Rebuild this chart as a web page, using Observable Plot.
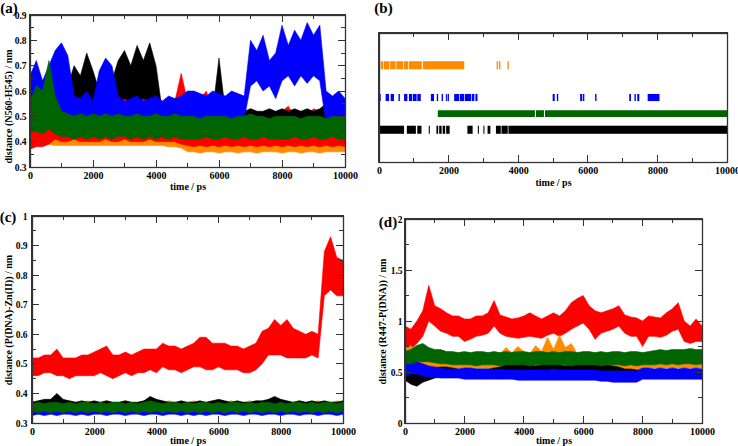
<!DOCTYPE html>
<html><head><meta charset="utf-8">
<script src="https://cdn.jsdelivr.net/npm/d3@7"></script>
<script src="https://cdn.jsdelivr.net/npm/@observablehq/plot@0.6"></script>
<style>
body{margin:0;background:#fff;}
#wrap{position:relative;width:738px;height:446px;overflow:hidden;background:#fff;}
#wrap svg{position:absolute;overflow:visible;}
.fr{position:absolute;border:1.3px solid #333;box-sizing:border-box;z-index:5;pointer-events:none;}
.tk{position:absolute;background:#333;z-index:5;pointer-events:none;}
</style></head><body><div id="wrap"></div>
<script>
// ---------- shared sampling grid (ps) ----------
const T = [0,200,400,600,800,1000,1200,1400,1600,1800,2000,2200,2400,2600,2800,3000,3200,3400,3600,3800,4000,4200,4400,4600,4800,5000,5200,5400,5600,5800,6000,6200,6400,6600,6800,7000,7200,7400,7600,7800,8000,8200,8400,8600,8800,9000,9200,9400,9600,9800,10000];

// ---------- ticks ----------
const xMajor = [0,2000,4000,6000,8000,10000];
const xMinor = [1000,3000,5000,7000,9000];
const aYMajor = [0.3,0.4,0.5,0.6,0.7,0.8,0.9];
const aYMinor = [0.35,0.45,0.55,0.65,0.75,0.85];
const cYMajor = [0.3,0.4,0.5,0.6,0.7,0.8,0.9,1];
const cYMinor = [0.35,0.45,0.55,0.65,0.75,0.85,0.95];
const dYMajor = [0,0.5,1,1.5,2];
const dYMinor = [0.25,0.75,1.25,1.75];

// ---------- panel (a): distance (N560-H545) lo/hi envelopes ----------
const aOrangeLo = [0.39,0.39,0.39,0.39,0.385,0.385,0.385,0.385,0.385,0.385,0.385,0.385,0.385,0.385,0.385,0.385,0.385,0.385,0.385,0.385,0.385,0.385,0.38,0.38,0.375,0.36,0.36,0.355,0.36,0.36,0.355,0.36,0.36,0.355,0.36,0.36,0.355,0.36,0.36,0.36,0.355,0.36,0.36,0.355,0.36,0.36,0.355,0.36,0.36,0.36,0.36];
const aOrangeHi = [0.43,0.43,0.43,0.44,0.45,0.45,0.44,0.45,0.44,0.45,0.44,0.45,0.44,0.45,0.44,0.45,0.44,0.45,0.44,0.45,0.44,0.45,0.44,0.45,0.44,0.44,0.44,0.43,0.44,0.43,0.44,0.44,0.43,0.44,0.43,0.44,0.44,0.43,0.44,0.43,0.44,0.44,0.43,0.44,0.43,0.44,0.43,0.44,0.44,0.43,0.44];
const aRedLo = [0.37,0.38,0.38,0.39,0.41,0.40,0.40,0.41,0.40,0.40,0.40,0.40,0.41,0.40,0.40,0.41,0.40,0.40,0.40,0.41,0.40,0.40,0.40,0.40,0.39,0.385,0.38,0.385,0.38,0.385,0.38,0.385,0.38,0.385,0.38,0.385,0.38,0.385,0.38,0.385,0.38,0.385,0.38,0.385,0.38,0.385,0.38,0.385,0.38,0.385,0.38];
const aRedHi = [0.46,0.50,0.48,0.52,0.50,0.55,0.60,0.54,0.56,0.53,0.58,0.55,0.57,0.54,0.65,0.58,0.62,0.56,0.60,0.55,0.58,0.56,0.53,0.56,0.67,0.56,0.60,0.57,0.60,0.52,0.50,0.50,0.51,0.50,0.50,0.53,0.52,0.50,0.50,0.51,0.52,0.54,0.50,0.52,0.50,0.53,0.52,0.50,0.51,0.50,0.50];
const aBlackLo = [0.46,0.46,0.45,0.45,0.46,0.48,0.50,0.52,0.52,0.53,0.52,0.50,0.50,0.50,0.55,0.57,0.56,0.55,0.57,0.56,0.55,0.43,0.43,0.43,0.43,0.43,0.43,0.43,0.43,0.43,0.44,0.43,0.43,0.43,0.43,0.44,0.44,0.44,0.44,0.43,0.44,0.44,0.43,0.44,0.44,0.44,0.44,0.44,0.44,0.44,0.44];
const aBlackHi = [0.60,0.58,0.58,0.56,0.60,0.60,0.62,0.70,0.66,0.75,0.68,0.60,0.62,0.64,0.72,0.76,0.70,0.78,0.72,0.79,0.70,0.52,0.53,0.52,0.52,0.52,0.53,0.52,0.53,0.52,0.73,0.52,0.52,0.53,0.52,0.53,0.52,0.52,0.53,0.52,0.53,0.52,0.53,0.52,0.53,0.52,0.53,0.55,0.56,0.57,0.55];
const aBlueLo = [0.52,0.50,0.50,0.52,0.50,0.50,0.50,0.48,0.49,0.48,0.49,0.50,0.50,0.49,0.48,0.47,0.48,0.47,0.48,0.47,0.48,0.47,0.47,0.46,0.48,0.48,0.49,0.48,0.49,0.48,0.48,0.48,0.48,0.48,0.49,0.62,0.64,0.60,0.62,0.57,0.64,0.66,0.62,0.66,0.63,0.66,0.64,0.47,0.48,0.47,0.48];
const aBlueHi = [0.66,0.72,0.64,0.70,0.76,0.79,0.74,0.58,0.57,0.60,0.56,0.68,0.73,0.70,0.58,0.56,0.57,0.58,0.56,0.57,0.58,0.56,0.58,0.57,0.58,0.60,0.60,0.59,0.58,0.60,0.59,0.58,0.60,0.59,0.58,0.80,0.76,0.82,0.72,0.75,0.86,0.78,0.84,0.80,0.87,0.82,0.86,0.60,0.58,0.60,0.57];
const aGreenLo = [0.44,0.44,0.43,0.45,0.43,0.42,0.42,0.41,0.42,0.41,0.42,0.41,0.42,0.41,0.42,0.42,0.41,0.42,0.41,0.42,0.41,0.42,0.41,0.42,0.41,0.41,0.41,0.41,0.42,0.41,0.41,0.42,0.41,0.41,0.42,0.41,0.41,0.42,0.41,0.41,0.41,0.41,0.42,0.41,0.41,0.42,0.41,0.41,0.42,0.41,0.41];
const aGreenHi = [0.56,0.62,0.60,0.72,0.58,0.52,0.51,0.50,0.51,0.50,0.51,0.50,0.51,0.50,0.51,0.50,0.50,0.51,0.50,0.50,0.51,0.50,0.50,0.51,0.50,0.50,0.50,0.49,0.50,0.50,0.50,0.50,0.49,0.50,0.50,0.51,0.50,0.50,0.49,0.50,0.50,0.50,0.50,0.49,0.50,0.50,0.50,0.49,0.50,0.50,0.50];

// ---------- panel (b): occupancy intervals [start, end] in ps ----------
const bOrange = [[0,30],[50,120],[140,300],[320,480],[500,690],[710,840],[860,1230],[1260,2450],[3380,3420],[3450,3490],[3690,3730]];
const bBlue = [[0,50],[190,290],[335,430],[560,600],[720,815],[860,950],[970,1080],[1100,1200],[1490,1580],[1660,1700],[1800,1840],[1920,1950],[1970,2010],[2160,2300],[2320,2450],[2470,2650],[2670,2740],[2770,2830],[4990,5050],[5110,5150],[5780,5840],[5860,5900],[6210,6250],[7190,7240],[7340,7380],[7420,7480],[7720,8060]];
const bGreen = [[1690,4480],[4510,4740],[4770,10000]];
const bBlack = [[0,720],[800,1060],[1100,1220],[1430,1460],[1650,1700],[1730,1800],[1830,1900],[1930,2030],[2540,2690],[2840,2870],[3000,3030],[3120,3200],[3360,3500],[3520,3700],[3720,10000]];
const bRows = {orange: 3, blue: 2, green: 1.5, black: 1};

// ---------- panel (c): distance (P(DNA)-Zn(II)) ----------
const cRedLo = [0.46,0.46,0.47,0.47,0.46,0.46,0.45,0.46,0.46,0.46,0.46,0.47,0.46,0.45,0.46,0.47,0.46,0.47,0.47,0.48,0.47,0.49,0.48,0.48,0.47,0.48,0.49,0.49,0.48,0.48,0.49,0.48,0.48,0.48,0.47,0.47,0.48,0.50,0.53,0.53,0.53,0.52,0.52,0.52,0.52,0.53,0.52,0.73,0.75,0.73,0.73];
const cRedHi = [0.52,0.52,0.53,0.53,0.55,0.52,0.52,0.52,0.53,0.53,0.54,0.55,0.56,0.53,0.53,0.54,0.53,0.54,0.55,0.55,0.55,0.57,0.56,0.56,0.55,0.56,0.57,0.59,0.59,0.57,0.57,0.57,0.56,0.56,0.55,0.56,0.57,0.61,0.62,0.65,0.63,0.65,0.62,0.61,0.60,0.61,0.60,0.88,0.93,0.86,0.85];
const cOrangeLo = [0.34,0.345,0.34,0.34,0.345,0.34,0.34,0.345,0.34,0.34,0.345,0.34,0.34,0.345,0.34,0.34,0.345,0.34,0.34,0.345,0.34,0.34,0.345,0.34,0.34,0.345,0.34,0.34,0.345,0.34,0.34,0.345,0.34,0.34,0.345,0.34,0.34,0.345,0.34,0.34,0.345,0.34,0.34,0.345,0.34,0.34,0.345,0.34,0.34,0.345,0.34];
const cOrangeHi = [0.37,0.375,0.37,0.38,0.375,0.37,0.375,0.37,0.37,0.375,0.37,0.37,0.375,0.37,0.37,0.375,0.37,0.37,0.375,0.37,0.375,0.37,0.375,0.37,0.37,0.37,0.375,0.37,0.37,0.375,0.37,0.37,0.375,0.37,0.37,0.375,0.37,0.37,0.375,0.38,0.375,0.37,0.37,0.375,0.37,0.37,0.375,0.37,0.37,0.375,0.37];
const cBlackLo = [0.34,0.34,0.345,0.34,0.34,0.345,0.34,0.34,0.345,0.34,0.34,0.345,0.34,0.34,0.345,0.34,0.34,0.345,0.34,0.34,0.345,0.34,0.34,0.345,0.34,0.34,0.345,0.34,0.34,0.345,0.34,0.34,0.345,0.34,0.34,0.345,0.34,0.34,0.345,0.34,0.34,0.345,0.34,0.34,0.345,0.34,0.34,0.345,0.34,0.34,0.345];
const cBlackHi = [0.37,0.375,0.38,0.38,0.40,0.38,0.375,0.37,0.375,0.37,0.375,0.37,0.375,0.37,0.37,0.375,0.37,0.37,0.375,0.39,0.38,0.375,0.37,0.37,0.375,0.37,0.37,0.375,0.37,0.375,0.38,0.375,0.37,0.375,0.37,0.37,0.375,0.375,0.38,0.39,0.38,0.375,0.37,0.375,0.37,0.375,0.37,0.375,0.37,0.37,0.375];
const cBlueLo = [0.325,0.33,0.325,0.33,0.325,0.33,0.33,0.325,0.33,0.325,0.33,0.33,0.325,0.33,0.33,0.325,0.33,0.33,0.325,0.33,0.33,0.325,0.33,0.33,0.325,0.33,0.325,0.33,0.325,0.33,0.33,0.325,0.33,0.33,0.325,0.33,0.33,0.325,0.33,0.33,0.325,0.33,0.33,0.325,0.33,0.33,0.325,0.33,0.33,0.325,0.33];
const cBlueHi = [0.36,0.36,0.365,0.36,0.36,0.36,0.365,0.36,0.36,0.36,0.365,0.36,0.36,0.36,0.365,0.36,0.36,0.36,0.365,0.36,0.36,0.36,0.365,0.36,0.36,0.36,0.365,0.36,0.36,0.36,0.365,0.36,0.36,0.36,0.365,0.36,0.36,0.36,0.365,0.36,0.36,0.36,0.365,0.36,0.36,0.36,0.365,0.36,0.36,0.36,0.365];
const cGreenLo = [0.34,0.335,0.34,0.335,0.34,0.335,0.34,0.335,0.34,0.335,0.34,0.335,0.34,0.335,0.34,0.335,0.34,0.335,0.34,0.335,0.34,0.335,0.34,0.335,0.34,0.335,0.34,0.335,0.34,0.335,0.34,0.335,0.34,0.335,0.34,0.335,0.34,0.335,0.34,0.335,0.34,0.335,0.34,0.335,0.34,0.335,0.34,0.335,0.34,0.335,0.34];
const cGreenHi = [0.365,0.37,0.365,0.37,0.37,0.365,0.37,0.365,0.37,0.37,0.365,0.37,0.365,0.37,0.37,0.365,0.37,0.365,0.37,0.375,0.37,0.365,0.37,0.37,0.365,0.37,0.365,0.37,0.37,0.365,0.37,0.365,0.37,0.37,0.365,0.37,0.365,0.37,0.37,0.365,0.37,0.365,0.37,0.37,0.365,0.37,0.365,0.37,0.37,0.365,0.37];

// ---------- panel (d): distance (R447-P(DNA)) ----------
const dRedLo = [0.75,0.72,0.78,0.85,1.00,0.95,0.90,0.88,0.85,0.85,0.80,0.82,0.85,0.86,0.88,0.95,0.88,0.85,0.84,0.83,0.84,0.85,0.84,0.83,0.86,0.88,0.85,0.88,0.92,0.95,0.98,0.92,0.82,0.88,0.90,0.92,0.95,0.88,0.85,0.85,0.75,0.85,0.85,0.84,0.86,0.90,0.92,0.80,0.78,0.80,0.80];
const dRedHi = [0.95,0.92,1.00,1.10,1.35,1.15,1.12,1.08,1.05,1.05,1.02,1.02,1.05,1.05,1.08,1.20,1.06,1.04,1.02,1.03,1.05,1.08,1.05,1.02,1.05,1.08,1.05,1.10,1.18,1.22,1.25,1.15,1.10,1.08,1.10,1.12,1.15,1.06,1.04,1.03,1.00,1.05,1.04,1.03,1.08,1.12,1.18,1.00,0.95,1.02,0.95];
const dOrangeLo = [0.55,0.55,0.55,0.55,0.55,0.55,0.55,0.54,0.54,0.54,0.54,0.54,0.54,0.54,0.54,0.54,0.54,0.54,0.54,0.54,0.54,0.54,0.54,0.54,0.54,0.54,0.54,0.54,0.54,0.54,0.53,0.50,0.50,0.50,0.50,0.50,0.50,0.51,0.51,0.52,0.53,0.54,0.54,0.54,0.54,0.54,0.54,0.54,0.54,0.54,0.54];
const dOrangeHi = [0.72,0.76,0.70,0.74,0.70,0.68,0.68,0.68,0.68,0.68,0.68,0.68,0.68,0.68,0.68,0.68,0.68,0.74,0.69,0.75,0.70,0.68,0.76,0.70,0.84,0.72,0.86,0.74,0.78,0.68,0.68,0.66,0.66,0.66,0.66,0.66,0.66,0.66,0.66,0.66,0.66,0.66,0.66,0.66,0.66,0.66,0.66,0.66,0.66,0.66,0.66];
const dBlackLo = [0.42,0.38,0.36,0.40,0.42,0.44,0.45,0.45,0.45,0.45,0.45,0.45,0.45,0.45,0.45,0.45,0.45,0.45,0.46,0.46,0.46,0.46,0.46,0.46,0.46,0.46,0.46,0.46,0.46,0.46,0.46,0.46,0.46,0.45,0.45,0.45,0.45,0.46,0.46,0.46,0.46,0.46,0.46,0.46,0.46,0.46,0.46,0.46,0.46,0.46,0.46];
const dBlackHi = [0.55,0.50,0.48,0.52,0.55,0.54,0.55,0.55,0.54,0.53,0.53,0.53,0.53,0.53,0.53,0.54,0.55,0.57,0.57,0.57,0.58,0.57,0.56,0.57,0.58,0.60,0.57,0.56,0.57,0.57,0.57,0.57,0.57,0.58,0.57,0.56,0.55,0.53,0.53,0.52,0.52,0.52,0.52,0.52,0.52,0.52,0.52,0.52,0.52,0.52,0.52];
const dBlueLo = [0.46,0.48,0.48,0.46,0.45,0.45,0.44,0.44,0.44,0.44,0.43,0.43,0.43,0.43,0.43,0.43,0.43,0.43,0.43,0.42,0.42,0.42,0.42,0.42,0.42,0.42,0.42,0.42,0.42,0.42,0.42,0.42,0.42,0.41,0.41,0.40,0.40,0.40,0.40,0.40,0.43,0.43,0.43,0.43,0.43,0.43,0.43,0.43,0.43,0.43,0.43];
const dBlueHi = [0.58,0.62,0.60,0.58,0.56,0.55,0.54,0.53,0.53,0.53,0.54,0.54,0.53,0.53,0.53,0.52,0.53,0.52,0.52,0.52,0.52,0.52,0.52,0.52,0.52,0.53,0.52,0.52,0.52,0.52,0.52,0.52,0.52,0.51,0.51,0.51,0.51,0.51,0.51,0.51,0.54,0.54,0.53,0.54,0.53,0.54,0.53,0.54,0.53,0.54,0.53];
const dGreenLo = [0.58,0.58,0.60,0.60,0.60,0.59,0.58,0.58,0.57,0.57,0.57,0.57,0.56,0.57,0.57,0.57,0.56,0.57,0.57,0.57,0.57,0.56,0.57,0.57,0.57,0.57,0.57,0.57,0.56,0.57,0.57,0.57,0.57,0.56,0.57,0.57,0.57,0.56,0.57,0.56,0.57,0.57,0.57,0.58,0.57,0.58,0.57,0.58,0.58,0.57,0.58];
const dGreenHi = [0.70,0.72,0.76,0.78,0.74,0.72,0.72,0.70,0.70,0.69,0.70,0.69,0.70,0.70,0.69,0.70,0.69,0.70,0.69,0.70,0.70,0.69,0.70,0.70,0.69,0.70,0.69,0.70,0.70,0.69,0.70,0.70,0.69,0.70,0.69,0.70,0.70,0.69,0.70,0.70,0.69,0.70,0.71,0.72,0.71,0.72,0.72,0.72,0.73,0.72,0.72];

// ---------- labels ----------
const tags = ["(a)", "(b)", "(c)", "(d)"];
const xTitle = "time / ps";
const yTitles = ["distance (N560-H545) / nm", "distance (P(DNA)-Zn(II)) / nm", "distance (R447-P(DNA)) / nm"];

// ---------- styles ----------
const COL = {red: "#ff0000", black: "#000000", blue: "#0000ff", green: "#006400", orange: "#ff8c00"};
const AX = "#333333";
const FONT = "'Liberation Serif', 'Times New Roman', serif";
const XDOM = [0, 10000];

const band = (lo, hi) => T.map((t, i) => ({t, lo: lo[i], hi: hi[i]}));
const area = (lo, hi, c) => Plot.areaY(band(lo, hi), {x: "t", y1: "lo", y2: "hi", fill: c, stroke: c, strokeWidth: 0.6, clip: true});

const wrap = document.getElementById("wrap");
function addDiv(cls, l, t, w, h) {
  const d = document.createElement("div");
  d.className = cls;
  d.style.left = l + "px"; d.style.top = t + "px";
  d.style.width = w + "px"; d.style.height = h + "px";
  wrap.appendChild(d);
}

function panel(o) {
  const fw = o.w - o.ml - o.mr, fh = o.h - o.mt - o.mb;
  const marks = [...o.layers];
  marks.push(Plot.frame({stroke: AX, strokeWidth: 1.3}));
  marks.push(Plot.axisX(xMajor, {tickSize: 0, tickPadding: o.xPad, fontSize: 10, label: null, tickFormat: d => String(d)}));
  if (o.yMaj) {
    marks.push(Plot.axisY(o.yMaj, {tickSize: 0, tickPadding: o.yPad, fontSize: 9.5, label: null, tickFormat: d => String(d)}));
    marks.push(Plot.text([o.ylabel], {text: d => d, frameAnchor: "left", textAnchor: "middle", lineAnchor: "middle", rotate: -90, dx: o.ylDx, dy: o.ylDy, fontSize: 10, fontWeight: "bold"}));
  }
  marks.push(Plot.text([xTitle], {text: d => d, frameAnchor: "bottom", textAnchor: "middle", lineAnchor: "middle", dy: o.xlDy, fontSize: 10, fontWeight: "bold"}));
  marks.push(Plot.text([o.tag], {text: d => d, frameAnchor: "top-left", textAnchor: "middle", lineAnchor: "middle", dx: o.tagDx, dy: o.tagDy, fontSize: 15, fontWeight: "bold"}));
  const svg = Plot.plot({
    width: o.w, height: o.h,
    marginLeft: o.ml, marginRight: o.mr, marginTop: o.mt, marginBottom: o.mb,
    x: {domain: XDOM},
    y: o.yMaj ? {domain: o.yDomain} : {domain: o.yDomain, axis: null},
    style: {fontFamily: FONT, fontWeight: "bold", fontSize: "10px", background: "transparent"},
    marks
  });
  svg.style.left = o.left + "px";
  svg.style.top = o.top + "px";
  wrap.appendChild(svg);

  // frame box and inward ticks, placed through the plot's own scales
  addDiv("fr", o.left + o.ml - 0.65, o.top + o.mt - 0.65, fw + 1.3, fh + 1.3);
  const sx = svg.scale("x"), sy = svg.scale("y");
  const MJ = 7, MN = 4;
  const xt = (arr, len) => arr.forEach(v => {
    const px = sx.apply(v);
    addDiv("tk", o.left + px - 0.5, o.top + o.mt + fh - len, 1, len);
    addDiv("tk", o.left + px - 0.5, o.top + o.mt, 1, len);
  });
  xt(xMajor, MJ); xt(xMinor, MN);
  if (o.yMaj) {
    const yt = (arr, len) => arr.forEach(v => {
      const py = sy.apply(v);
      addDiv("tk", o.left + o.ml, o.top + py - 0.5, len, 1);
      addDiv("tk", o.left + o.ml + fw - len, o.top + py - 0.5, len, 1);
    });
    yt(o.yMaj, MJ); yt(o.yMin, MN);
  }
}

// (a)
panel({
  left: 0, top: 0, w: 369, h: 200, ml: 30, mr: 24, mt: 15, mb: 33,
  yDomain: [0.3, 0.9], yMaj: aYMajor, yMin: aYMinor, xPad: 4.5, yPad: 4,
  ylabel: yTitles[0], ylDx: -22, ylDy: 15, xlDy: 19, tag: tags[0], tagDx: -21.5, tagDy: -7,
  layers: [
    area(aOrangeLo, aOrangeHi, COL.orange),
    area(aRedLo, aRedHi, COL.red),
    area(aBlackLo, aBlackHi, COL.black),
    area(aBlueLo, aBlueHi, COL.blue),
    area(aGreenLo, aGreenHi, COL.green)
  ]
});

// (b)
const occ = (iv, row, half, c) => Plot.rect(iv, {x1: d => d[0], x2: d => d[1], y1: () => row - half, y2: () => row + half, fill: c});
panel({
  left: 369, top: 0, w: 369, h: 200, ml: 10, mr: 11, mt: 33, mb: 38,
  yDomain: [0, 4], yMaj: null, yMin: null, xPad: 4.5,
  xlDy: 20, tag: tags[1], tagDx: 4, tagDy: -25,
  layers: [
    occ(bOrange, bRows.orange, 0.125, COL.orange),
    occ(bBlue, bRows.blue, 0.11, COL.blue),
    occ(bGreen, bRows.green, 0.105, COL.green),
    occ(bBlack, bRows.black, 0.125, COL.black)
  ]
});

// (c)
panel({
  left: 0, top: 200, w: 369, h: 246, ml: 32, mr: 26, mt: 16, mb: 23,
  yDomain: [0.3, 1], yMaj: cYMajor, yMin: cYMinor, xPad: 4, yPad: 5,
  ylabel: yTitles[1], ylDx: -24, ylDy: 0, xlDy: 17, tag: tags[2], tagDx: -24.5, tagDy: 1,
  layers: [
    area(cRedLo, cRedHi, COL.red),
    area(cOrangeLo, cOrangeHi, COL.orange),
    area(cBlackLo, cBlackHi, COL.black),
    area(cBlueLo, cBlueHi, COL.blue),
    area(cGreenLo, cGreenHi, COL.green)
  ]
});

// (d)
panel({
  left: 369, top: 200, w: 369, h: 246, ml: 36, mr: 36, mt: 19, mb: 23,
  yDomain: [0, 2], yMaj: dYMajor, yMin: dYMinor, xPad: 4, yPad: 3,
  ylabel: yTitles[2], ylDx: -23, ylDy: 0, xlDy: 17, tag: tags[3], tagDx: -17.5, tagDy: 3,
  layers: [
    area(dRedLo, dRedHi, COL.red),
    area(dOrangeLo, dOrangeHi, COL.orange),
    area(dBlackLo, dBlackHi, COL.black),
    area(dBlueLo, dBlueHi, COL.blue),
    area(dGreenLo, dGreenHi, COL.green)
  ]
});
</script>
</body></html>
